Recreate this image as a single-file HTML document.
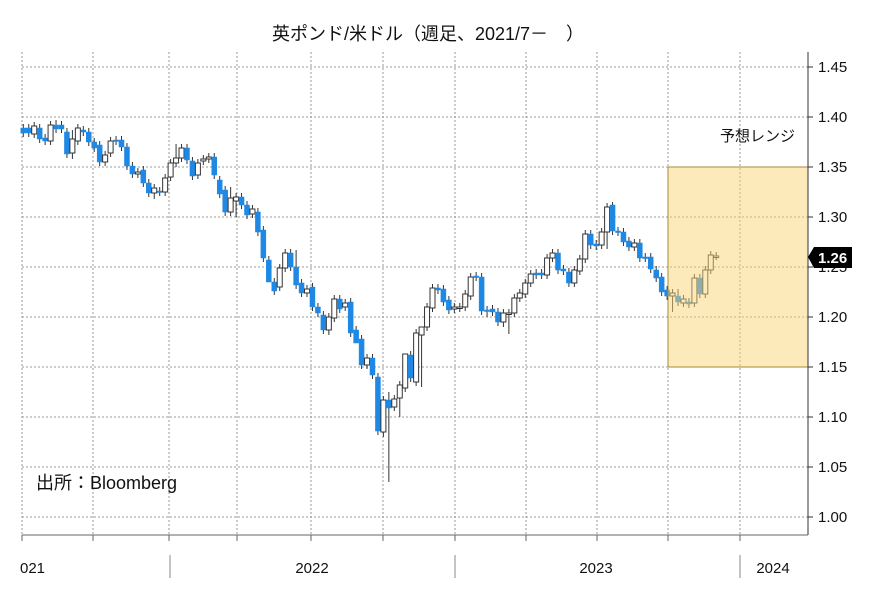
<!DOCTYPE html>
<html><head><meta charset="utf-8">
<style>
html,body{margin:0;padding:0;background:#fff;}
svg{display:block;font-family:"Liberation Sans","Noto Sans CJK JP",sans-serif;}
</style></head>
<body>
<svg id="chart" width="870" height="589" viewBox="0 0 870 589">
<text x="428" y="40" text-anchor="middle" font-size="18" fill="#111">英ポンド/米ドル（週足、2021/7－　）</text>
<g id="grid"></g>
<g id="candles"></g>
<rect id="box" fill="rgba(250,214,120,0.5)" stroke="#a88a3a" stroke-width="1"></rect>
<text x="795" y="141" text-anchor="end" font-size="15" fill="#111">予想レンジ</text>
<text x="36" y="489" font-size="18" fill="#111">出所：Bloomberg</text>
<g id="yaxis"></g>
<g id="xaxis"></g>
</svg>
<script>
const opens=[1.389,1.389,1.383,1.389,1.379,1.376,1.392,1.392,1.385,1.364,1.376,1.387,1.385,1.375,1.372,1.355,1.364,1.377,1.377,1.370,1.351,1.343,1.347,1.334,1.324,1.326,1.325,1.340,1.354,1.359,1.369,1.356,1.342,1.356,1.358,1.360,1.337,1.327,1.305,1.316,1.320,1.312,1.303,1.305,1.287,1.257,1.235,1.230,1.249,1.264,1.250,1.234,1.224,1.230,1.210,1.202,1.187,1.199,1.218,1.210,1.215,1.187,1.178,1.152,1.159,1.140,1.085,1.117,1.110,1.119,1.129,1.162,1.135,1.182,1.190,1.209,1.229,1.228,1.217,1.208,1.209,1.210,1.221,1.241,1.240,1.207,1.208,1.205,1.195,1.204,1.204,1.219,1.223,1.234,1.244,1.244,1.242,1.259,1.264,1.248,1.245,1.234,1.246,1.258,1.283,1.273,1.272,1.285,1.312,1.286,1.285,1.276,1.270,1.274,1.260,1.260,1.247,1.240,1.227,1.221,1.221,1.214,1.215,1.214,1.239,1.223,1.247,1.261];
const closes=[1.384,1.384,1.391,1.378,1.376,1.392,1.388,1.388,1.363,1.378,1.389,1.385,1.375,1.369,1.355,1.362,1.376,1.376,1.370,1.351,1.343,1.345,1.334,1.324,1.329,1.325,1.339,1.354,1.359,1.369,1.357,1.341,1.354,1.358,1.360,1.342,1.323,1.305,1.319,1.320,1.312,1.302,1.308,1.285,1.259,1.235,1.226,1.249,1.264,1.250,1.232,1.224,1.228,1.210,1.204,1.187,1.200,1.218,1.208,1.214,1.184,1.174,1.152,1.159,1.142,1.086,1.117,1.109,1.118,1.132,1.163,1.139,1.184,1.190,1.210,1.229,1.227,1.215,1.207,1.210,1.210,1.223,1.240,1.240,1.206,1.206,1.205,1.195,1.204,1.204,1.219,1.224,1.234,1.243,1.242,1.242,1.259,1.264,1.247,1.246,1.234,1.247,1.258,1.283,1.272,1.271,1.285,1.310,1.286,1.285,1.275,1.270,1.274,1.259,1.259,1.248,1.239,1.225,1.221,1.224,1.215,1.218,1.213,1.239,1.223,1.247,1.262,1.261];
const lowOverride={9:1.358,24:1.318,39:1.300,45:1.255,56:1.182,61:1.180,66:1.080,67:1.035,69:1.100,73:1.130,85:1.200,88:1.190,89:1.183,107:1.268,119:1.205};
const highOverride={6:1.397,9:1.387,28:1.373,38:1.330,50:1.267,67:1.125,70:1.142,73:1.190,108:1.315,120:1.228};
const yTicks=[1.00,1.05,1.10,1.15,1.20,1.25,1.30,1.35,1.40,1.45];
const yearLabels=["021","2022","2023","2024"];
const rangeLow=1.15, rangeHigh=1.35, lastPrice=1.26;

const NS="http://www.w3.org/2000/svg";
function yS(v){return 517-(v-1.0)*1000;}
function xS(i){return 23.3+i*5.456;}
function mk(tag,attrs,parent){const e=document.createElementNS(NS,tag);for(const k in attrs)e.setAttribute(k,attrs[k]);parent.appendChild(e);return e;}
const grid=document.getElementById('grid'),cg=document.getElementById('candles'),ya=document.getElementById('yaxis'),xa=document.getElementById('xaxis');
yTicks.forEach(v=>{
  const l=mk('line',{x1:22,x2:808,y1:yS(v),y2:yS(v),stroke:'#999','stroke-dasharray':'2,2','stroke-width':1},grid);
  
  
  const t=mk('line',{x1:808,x2:813,y1:yS(v),y2:yS(v),stroke:'#333'},ya);
  
  
  const tx=mk('text',{x:818,y:yS(v)+5,'font-size':15,fill:'#111'},ya);
  tx.textContent=v.toFixed(2);
  
  
});
[22,93,169,237,311,383,455,526,597,668,740].forEach(x=>{
  const l=mk('line',{x1:x,x2:x,y1:52,y2:535,stroke:'#999','stroke-dasharray':'2,2'},grid);
  
  
  const t=mk('line',{x1:x,x2:x,y1:535,y2:541,stroke:'#666'},xa);
  
  
});
mk('line',{x1:808,x2:808,y1:52,y2:535,stroke:'#333'},ya);
mk('line',{x1:22,x2:808,y1:535,y2:535,stroke:'#666'},xa);
[170,455,740].forEach(x=>{
  const t=mk('line',{x1:x,x2:x,y1:555,y2:578,stroke:'#888'},xa);
  
  
});
[[20,'start'],[312,'middle'],[596,'middle'],[773,'middle']].forEach((p,i)=>{
  const tx=mk('text',{x:p[0],y:573,'text-anchor':p[1],'font-size':15,fill:'#111'},xa);
  tx.textContent=yearLabels[i];
  
  
});
opens.forEach((o,i)=>{
  const c=closes[i],x=xS(i);
  const hi=(highOverride[i]!==undefined)?highOverride[i]:Math.max(o,c)+0.004;
  const lo=(lowOverride[i]!==undefined)?lowOverride[i]:Math.min(o,c)-0.004;
  const w=mk('line',{x1:x,x2:x,y1:yS(hi),y2:yS(lo),stroke:'#333','stroke-width':1},cg);
  
  
  const up=c>=o;
  const top=yS(Math.max(o,c)),h=Math.max(1.5,Math.abs(yS(o)-yS(c)));
  const r=mk('rect',{x:x-2.5,y:top,width:5,height:h,fill:up?'#fff':'#1e88e5',stroke:up?'#333':'#1e88e5','stroke-width':up?1:0.5},cg);
  
  
});
const b=document.getElementById('box');
b.setAttribute('x',668);b.setAttribute('width',140);
b.setAttribute('y',yS(rangeHigh));b.setAttribute('height',yS(rangeLow)-yS(rangeHigh));
const ly=yS(lastPrice);
const tag=mk('path',{d:`M808 ${ly} L814 ${ly-10} L852 ${ly-10} L852 ${ly+11} L814 ${ly+11} Z`,fill:'#000'},ya);


const lt=mk('text',{x:818,y:ly+6,'font-size':15,fill:'#fff','font-weight':'bold'},ya);
lt.textContent=lastPrice.toFixed(2);


</script>
</body></html>
